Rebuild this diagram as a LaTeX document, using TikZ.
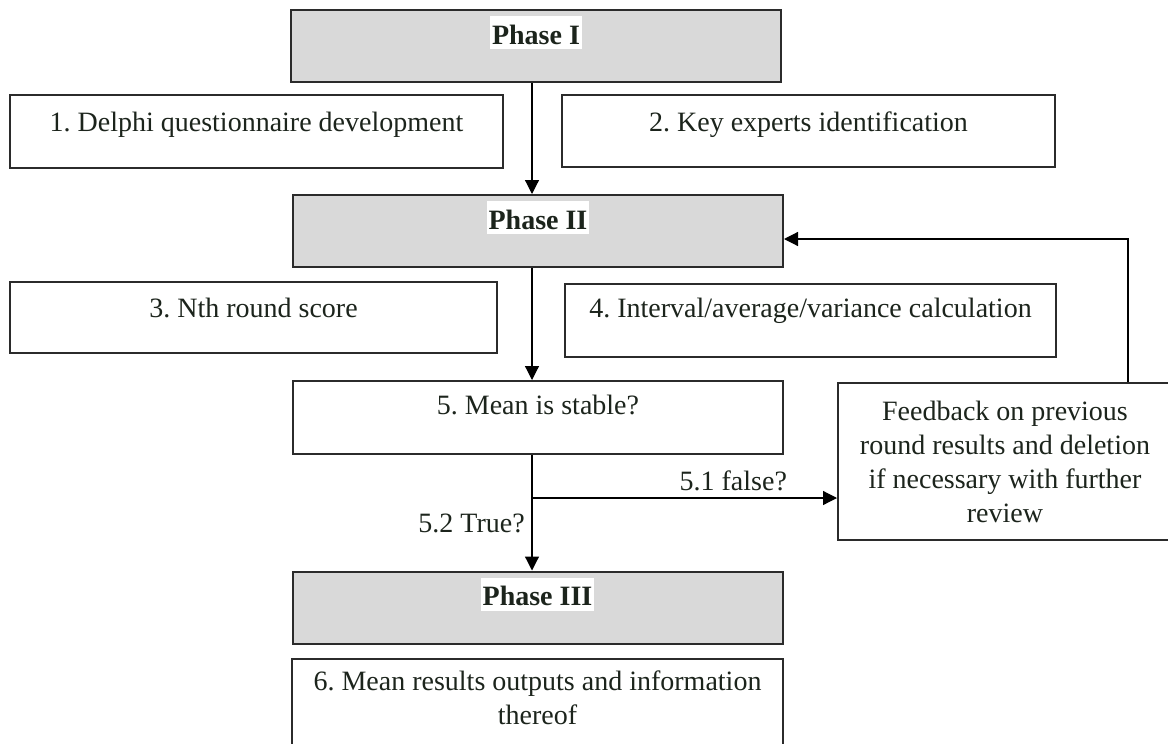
\documentclass[tikz,border=0pt]{standalone}
\usepackage{fontspec}
\setmainfont{Liberation Serif}
\usepackage{tikz}
\usetikzlibrary{positioning,arrows.meta,calc}
\definecolor{ink}{HTML}{1C241C}
\definecolor{edge}{HTML}{2B2B2B}
\definecolor{phasegrey}{HTML}{D9D9D9}
\newcommand{\flowfont}{\fontsize{14}{17}\selectfont\frenchspacing}
\tikzset{
  phasebox/.style={draw=edge,fill=phasegrey,line width=1pt,minimum width=245pt,minimum height=36pt,inner sep=0pt},
  stepbox/.style={draw=edge,fill=white,line width=1pt,inner sep=0pt,align=center},
  phasetitle/.style={fill=white,font=\flowfont\bfseries,text=ink,inner xsep=1pt,inner ysep=1pt,text height=13pt,text depth=1.5pt,anchor=base},
  plain/.style={align=center,text=ink},
  flow/.style={-{Triangle[length=7pt,width=7pt]},draw=black,line width=0.6pt},
  line/.style={draw=black,line width=0.6pt}}

\begin{document}
\begin{tikzpicture}[x=0.5pt,y=-0.5pt,font=\flowfont]
  \path[use as bounding box,clip] (0,0) rectangle (1168,744);
  \fill[white] (0,0) rectangle (1168,744);
  % phase I
  \node[phasebox] (p1) at (536,46) {};
  \node[phasetitle,yshift=-17.5pt] (p1t) at (p1.north) {Phase I};
  \node[stepbox,minimum width=246.5pt,minimum height=36.5pt] (b1) at (256.5,131.5) {};
  \node[plain,anchor=base,yshift=-18.5pt] (t1) at (b1.north) {1. Delphi questionnaire development};
  \node[stepbox,minimum width=246.5pt,minimum height=36pt] (b2) at (808.5,131) {};
  \node[plain,anchor=base,yshift=-18.5pt] (t2) at (b2.north) {2. Key experts identification};
  % phase II
  \node[phasebox] (p2) at (538,231) {};
  \node[phasetitle,yshift=-17.5pt] (p2t) at (p2.north) {Phase II};
  \node[stepbox,minimum width=243.5pt,minimum height=35.5pt] (b3) at (253.5,317.5) {};
  \node[plain,anchor=base,yshift=-18pt] (t3) at (b3.north) {3. Nth round score};
  \node[stepbox,minimum width=245.5pt,minimum height=36.5pt] (b4) at (810.5,320.5) {};
  \node[plain,anchor=base,yshift=-17pt] (t4) at (b4.north) {4. Interval/average/variance calculation};
  \node[stepbox,minimum width=245pt,minimum height=36.5pt] (b5) at (538,417.5) {};
  \node[plain,anchor=base,yshift=-17pt] (t5) at (b5.north) {5. Mean is stable?};
  \node[stepbox,text=ink,minimum width=167pt,minimum height=78.5pt] (fb) at (1005,461.5)
    {Feedback on previous\\round results and deletion\\if necessary with further\\review};
  % phase III
  \node[phasebox] (p3) at (537.5,607.5) {};
  \node[phasetitle,yshift=-17.5pt] (p3t) at (p3.north) {Phase III};
  \node[stepbox,minimum width=245.5pt,minimum height=50.5pt] (b6) at (537.5,709.5) {};
  \node[plain,yshift=-20pt] (t6) at (b6.north) {6. Mean results outputs and information\\thereof};
  % connectors
  \coordinate (spine) at (532,0);
  \coordinate (split) at (532,498);
  \coordinate (loop) at (1128,239);
  \draw[flow] (p1.south -| spine) -- (p2.north -| spine);
  \draw[flow] (p2.south -| spine) -- (b5.north -| spine);
  \draw[line] (b5.south -| spine) -- (split);
  \draw[flow] (split) -- node[plain,above,pos=0.66] {5.1 false?} (fb.west |- split);
  \draw[flow] (split) -- node[plain,left,pos=0.35] {5.2 True?} (p3.north -| spine);
  \draw[flow] (fb.north -| loop) |- (p2.east |- loop);
\end{tikzpicture}
\end{document}
